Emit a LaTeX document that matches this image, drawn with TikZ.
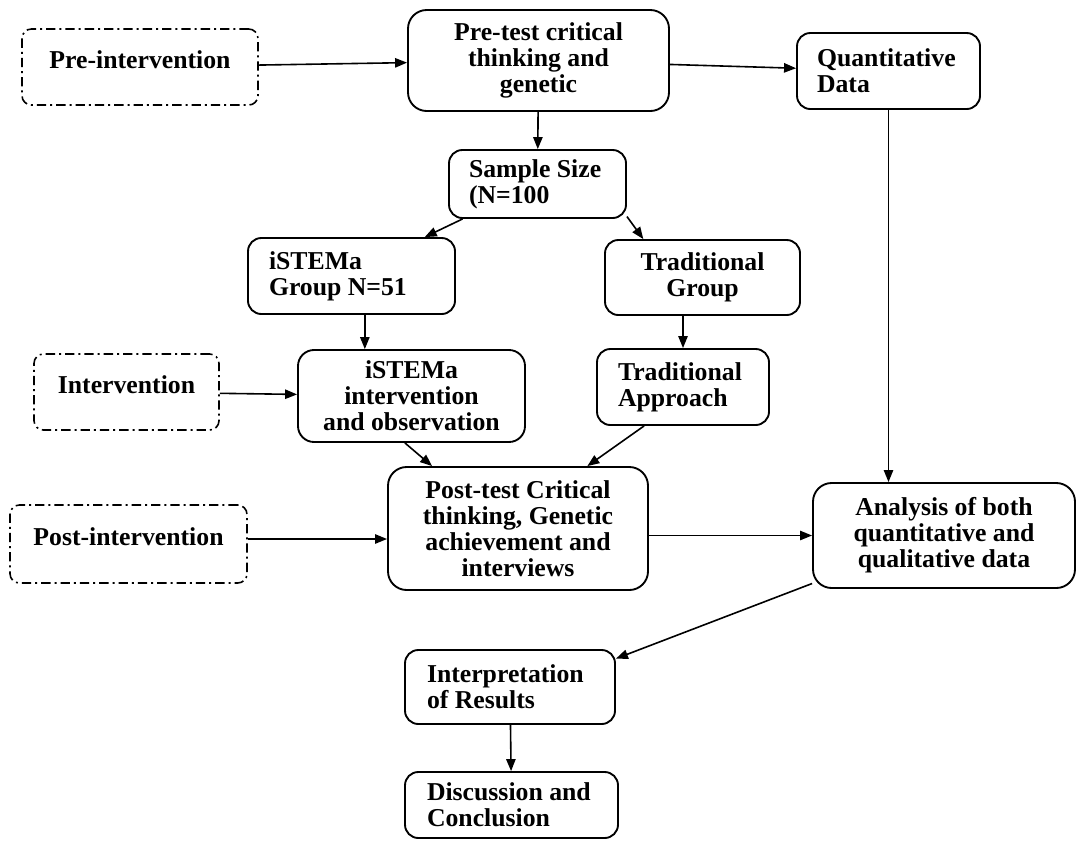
\documentclass[tikz,border=0pt]{standalone}
\usepackage{fontspec}
\setmainfont{Liberation Serif}
\usetikzlibrary{arrows.meta}
\begin{document}
\begin{tikzpicture}[x=0.75pt,y=-0.75pt]
  \useasboundingbox (0,0) rectangle (1078,840);
  \begin{scope}[every node/.style={draw,line width=1.2pt,rounded corners=7pt,dash pattern=on 7pt off 3pt on 1.5pt off 3pt,inner sep=0pt,font=\bfseries\fontsize{19.3}{19.5}\selectfont,text height=13pt,text depth=11pt}]
  \node[minimum width=177pt,minimum height=57pt] (pre) at (140,67) {Pre-intervention};
  \node[minimum width=138.75pt,minimum height=57pt] (mid) at (126.5,392) {Intervention};
  \node[minimum width=177.75pt,minimum height=58.5pt] (post) at (128.5,544) {Post-intervention};
  \end{scope}
  \begin{scope}[every node/.style={draw,line width=1.4pt,rounded corners=10pt,inner sep=0pt,align=center,font=\bfseries\fontsize{19.3}{19.5}\selectfont}]
  \node[minimum width=195.75pt,minimum height=75.75pt,rounded corners=14pt] (pretest) at (538.5,60.5) {Pre-test critical\\thinking and\\genetic};
  \node[minimum width=137.25pt,minimum height=57pt,text width=107.25pt,align=flush left] (quant) at (888.5,71) {Quantitative\\Data};
  \node[minimum width=132.75pt,minimum height=51pt,text width=102.75pt,align=flush left] (sample) at (537.5,184) {Sample Size\\(N=100};
  \node[minimum width=155.25pt,minimum height=57pt,text width=123.75pt,align=flush left] (grpA) at (351.5,276) {iSTEMa\\Group N=51};
  \node[minimum width=146.25pt,minimum height=56.25pt] (grpB) at (702.5,277.5) {Traditional\\Group};
  \node[minimum width=170.25pt,minimum height=69pt,rounded corners=12pt] (actA) at (411.5,396) {iSTEMa\\intervention\\and observation};
  \node[minimum width=129pt,minimum height=57pt,text width=97.5pt,align=flush left] (actB) at (683,387) {Traditional\\Approach};
  \node[minimum width=195pt,minimum height=92.25pt,rounded corners=14pt] (posttest) at (518,528.5) {Post-test Critical\\thinking, Genetic\\achievement and\\interviews};
  \node[minimum width=196.5pt,minimum height=78.75pt,rounded corners=14pt] (analysis) at (944,535.5) {Analysis of both\\quantitative and\\qualitative data};
  \node[minimum width=157.5pt,minimum height=55.5pt,text width=124.5pt,align=flush left] (interp) at (510,687) {Interpretation\\of Results};
  \node[minimum width=159.75pt,minimum height=49.5pt,text width=126.75pt,align=flush left] (disc) at (511.5,805) {Discussion and\\Conclusion};
  \end{scope}
  \coordinate (aDown) at ([xshift=10pt]grpA.south);
  \coordinate (postOut) at ([yshift=3.75pt]post.east);
  \begin{scope}[every edge/.style={draw=black,line width=1.2pt,-{Triangle[length=9pt,width=7pt]}}]
  \path (pre) edge (pretest);
  \path (pretest) edge (quant);
  \path (pretest) edge (sample);
  \path (sample.205) edge (grpA.28);
  \path (sample.-20) edge (grpB.147);
  \path (aDown) edge (aDown |- actA.north);
  \path (actB.north |- grpB.south) edge (actB.north);
  \path (mid) edge (actA);
  \path (actA.-98) edge (posttest.144);
  \path (actB.-135) edge (posttest.42);
  \path (postOut) edge (postOut -| posttest.west);
  \path (posttest.east |- analysis.west) edge (analysis.west);
  \path (quant.south) edge (quant.south |- analysis.north);
  \path (analysis.200) edge (interp.15);
  \path (interp) edge (disc);
  \end{scope}
\end{tikzpicture}
\end{document}
